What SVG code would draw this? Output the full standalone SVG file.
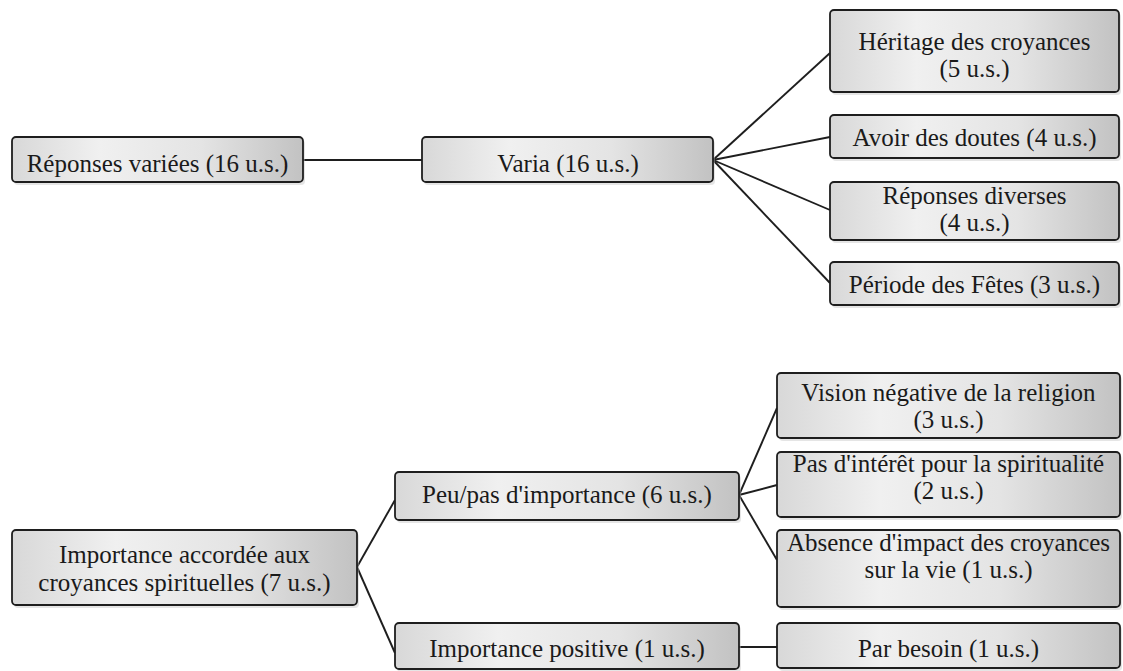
<svg xmlns="http://www.w3.org/2000/svg" width="1123" height="671" viewBox="0 0 1123 671">
<style>
.box{fill:url(#g);stroke:#1e1e1e;stroke-width:1.8}
.sh{fill:#bdbdbd;opacity:0.4}
.t{font-family:"Liberation Serif","Times New Roman",Times,"Noto Serif","DejaVu Serif",serif;font-size:25px;fill:#1a1a1a;text-anchor:middle}
.c{stroke:#1e1e1e;stroke-width:1.9;fill:none}
</style>
<defs>
<linearGradient id="g" x1="0" y1="0" x2="1" y2="0">
<stop offset="0" stop-color="#d8d8d8"/>
<stop offset="0.3" stop-color="#f0f0f0"/>
<stop offset="0.65" stop-color="#e4e4e4"/>
<stop offset="1" stop-color="#c2c2c2"/>
</linearGradient>
</defs>
<rect width="1123" height="671" fill="#ffffff"/>
<g id="connectors">
<line class="c" x1="303" y1="160" x2="422" y2="160"/>
<line class="c" x1="713" y1="160" x2="830" y2="53"/>
<line class="c" x1="713" y1="160" x2="830" y2="137"/>
<line class="c" x1="713" y1="160" x2="830" y2="210"/>
<line class="c" x1="713" y1="160" x2="830" y2="283"/>
<line class="c" x1="357" y1="567" x2="395" y2="500"/>
<line class="c" x1="357" y1="567" x2="395" y2="653"/>
<line class="c" x1="739" y1="495" x2="777" y2="408"/>
<line class="c" x1="739" y1="495" x2="777" y2="485"/>
<line class="c" x1="739" y1="495" x2="777" y2="560"/>
<line class="c" x1="739" y1="647" x2="777" y2="647"/>
</g>
<g id="n1"><rect class="sh" x="14" y="140" width="291" height="45" rx="4"/><rect class="box" x="12" y="137" width="291" height="45" rx="4"/><text class="t" x="157.5" y="172">Réponses variées (16 u.s.)</text></g>
<g id="n2"><rect class="sh" x="424" y="140" width="291" height="45" rx="4"/><rect class="box" x="422" y="137" width="291" height="45" rx="4"/><text class="t" x="568" y="172">Varia (16 u.s.)</text></g>
<g id="n3"><rect class="sh" x="832" y="13" width="289" height="82" rx="4"/><rect class="box" x="830" y="10" width="289" height="82" rx="4"/><text class="t" x="974.5" y="50">Héritage des croyances</text><text class="t" x="974.5" y="77">(5 u.s.)</text></g>
<g id="n4"><rect class="sh" x="832" y="118" width="289" height="43" rx="4"/><rect class="box" x="830" y="115" width="289" height="43" rx="4"/><text class="t" x="974.5" y="146">Avoir des doutes (4 u.s.)</text></g>
<g id="n5"><rect class="sh" x="832" y="185" width="289" height="58" rx="4"/><rect class="box" x="830" y="182" width="289" height="58" rx="4"/><text class="t" x="974.5" y="204">Réponses diverses</text><text class="t" x="974.5" y="231">(4 u.s.)</text></g>
<g id="n6"><rect class="sh" x="832" y="265" width="289" height="43" rx="4"/><rect class="box" x="830" y="262" width="289" height="43" rx="4"/><text class="t" x="974.5" y="293">Période des Fêtes (3 u.s.)</text></g>
<g id="n7"><rect class="sh" x="14" y="533" width="345" height="75" rx="4"/><rect class="box" x="12" y="530" width="345" height="75" rx="4"/><text class="t" x="184.5" y="563">Importance accordée aux</text><text class="t" x="184.5" y="591">croyances spirituelles (7 u.s.)</text></g>
<g id="n8"><rect class="sh" x="397" y="475" width="344" height="48" rx="4"/><rect class="box" x="395" y="472" width="344" height="48" rx="4"/><text class="t" x="567" y="503">Peu/pas d'importance (6 u.s.)</text></g>
<g id="n9"><rect class="sh" x="397" y="626" width="344" height="46" rx="4"/><rect class="box" x="395" y="623" width="344" height="46" rx="4"/><text class="t" x="567" y="657">Importance positive (1 u.s.)</text></g>
<g id="n10"><rect class="sh" x="779" y="376" width="343" height="65" rx="4"/><rect class="box" x="777" y="373" width="343" height="65" rx="4"/><text class="t" x="948.5" y="401">Vision négative de la religion</text><text class="t" x="948.5" y="428">(3 u.s.)</text></g>
<g id="n11"><rect class="sh" x="779" y="455" width="343" height="65" rx="4"/><rect class="box" x="777" y="452" width="343" height="65" rx="4"/><text class="t" x="948.5" y="472">Pas d'intérêt pour la spiritualité</text><text class="t" x="948.5" y="499">(2 u.s.)</text></g>
<g id="n12"><rect class="sh" x="779" y="533" width="343" height="77" rx="4"/><rect class="box" x="777" y="530" width="343" height="77" rx="4"/><text class="t" x="948.5" y="551">Absence d'impact des croyances</text><text class="t" x="948.5" y="578">sur la vie (1 u.s.)</text></g>
<g id="n13"><rect class="sh" x="779" y="626" width="343" height="45" rx="4"/><rect class="box" x="777" y="623" width="343" height="45" rx="4"/><text class="t" x="948.5" y="657">Par besoin (1 u.s.)</text></g>
</svg>
